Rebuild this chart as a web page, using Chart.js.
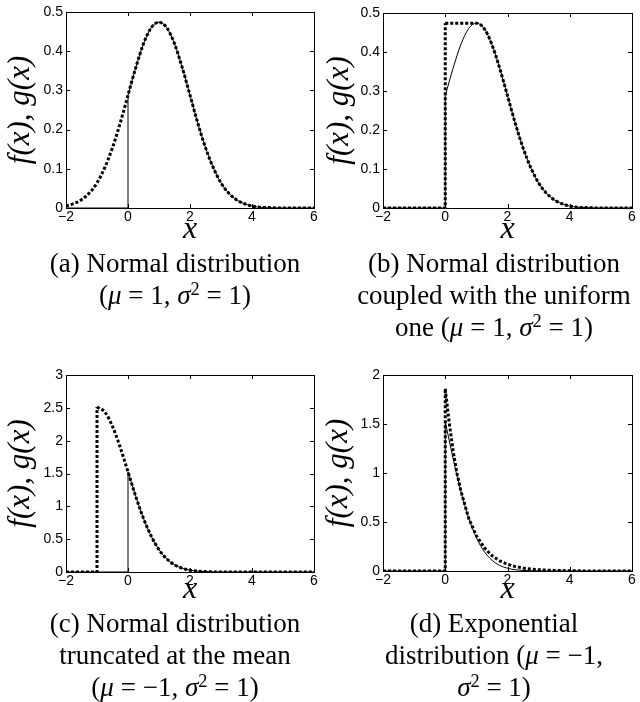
<!DOCTYPE html>
<html lang="en">
<head>
  <meta charset="UTF-8">
  <title>Truncated distributions f(x), g(x)</title>
  <script src="https://cdn.jsdelivr.net/npm/chart.js"></script>
  <style>
    body { margin: 0; background: #fff; width: 640px; height: 702px; position: relative; overflow: hidden; }
    .panel { position: absolute; width: 320px; height: 250px; }
    .caption { position: absolute; width: 340px; text-align: center; color: #000;
               font-family: "Liberation Serif", "Times New Roman", serif; font-size: 27px; line-height: 32px; }
    .caption sup { font-size: 0.68em; vertical-align: 0; position: relative; top: -0.48em; }
  </style>
</head>
<body>

  <!-- Panels -->
  <div class="panel" style="left:0;top:0"><canvas id="chartA" width="320" height="250"></canvas></div>
  <div class="panel" style="left:320px;top:0"><canvas id="chartB" width="320" height="250"></canvas></div>
  <div class="panel" style="left:0;top:360px"><canvas id="chartC" width="320" height="250"></canvas></div>
  <div class="panel" style="left:320px;top:360px"><canvas id="chartD" width="320" height="250"></canvas></div>

  <!-- Captions -->
  <div class="caption" style="left:5px;top:247px">(a) Normal distribution<br>(<i>μ</i> = 1, <i>σ</i><sup>2</sup> = 1)</div>
  <div class="caption" style="left:324px;top:247px">(b) Normal distribution<br>coupled with the uniform<br>one (<i>μ</i> = 1, <i>σ</i><sup>2</sup> = 1)</div>
  <div class="caption" style="left:5px;top:607px">(c) Normal distribution<br>truncated at the mean<br>(<i>μ</i> = −1, <i>σ</i><sup>2</sup> = 1)</div>
  <div class="caption" style="left:324px;top:607px">(d) Exponential<br>distribution (<i>μ</i> = −1,<br><i>σ</i><sup>2</sup> = 1)</div>

  <script>
    // Tick labels
    const xTicks = [-2, 0, 2, 4, 6];
    const yTicksAB = [0, 0.1, 0.2, 0.3, 0.4, 0.5];
    const yTicksC = [0, 0.5, 1, 1.5, 2, 2.5, 3];
    const yTicksD = [0, 0.5, 1, 1.5, 2];

    // (a) g(x): normal, mu = 1 (dotted)
    const xG1 = [-2, -1.75, -1.5, -1.25, -1, -0.75, -0.5, -0.25, 0, 0.25, 0.5, 0.75, 1, 1.25, 1.5, 1.75, 2, 2.25, 2.5, 2.75, 3, 3.25, 3.5, 3.75, 4, 4.25, 4.5, 5, 6];
    const yG1 = [0.005, 0.011, 0.021, 0.038, 0.064, 0.103, 0.154, 0.217, 0.288, 0.358, 0.419, 0.460, 0.474, 0.460, 0.419, 0.358, 0.288, 0.217, 0.154, 0.103, 0.064, 0.038, 0.021, 0.011, 0.005, 0.002, 0.001, 0, 0];

    // (a),(b) f(x): normal truncated at 0 (solid), starts at the jump
    const xF1 = [0, 0.25, 0.5, 0.75, 1, 1.25, 1.5, 1.75, 2, 2.25, 2.5, 2.75, 3, 3.25, 3.5, 3.75, 4, 4.25, 4.5, 5, 6];
    const yF1 = [0.288, 0.358, 0.419, 0.460, 0.474, 0.460, 0.419, 0.358, 0.288, 0.217, 0.154, 0.103, 0.064, 0.038, 0.021, 0.011, 0.005, 0.002, 0.001, 0, 0];

    // (b) g(x): uniform part then normal tail (dotted)
    const xG2 = [0, 1, 1.25, 1.5, 1.75, 2, 2.25, 2.5, 2.75, 3, 3.25, 3.5, 3.75, 4, 4.25, 4.5, 5, 6];
    const yG2 = [0.474, 0.474, 0.460, 0.419, 0.358, 0.288, 0.217, 0.154, 0.103, 0.064, 0.038, 0.021, 0.011, 0.005, 0.002, 0.001, 0, 0];

    // (c) g(x): normal mu = -1 truncated at the mean (dotted)
    const xG3 = [-1, -0.75, -0.5, -0.25, 0, 0.25, 0.5, 0.75, 1, 1.25, 1.5, 1.75, 2, 2.25, 2.5, 2.75, 3, 3.5, 6];
    const yG3 = [2.513, 2.437, 2.218, 1.897, 1.525, 1.150, 0.816, 0.544, 0.340, 0.200, 0.110, 0.057, 0.028, 0.013, 0.006, 0.002, 0.001, 0, 0];

    // (c),(d) f(x): normal mu = -1 truncated at 0 (solid)
    const xF3 = [0, 0.25, 0.5, 0.75, 1, 1.25, 1.5, 1.75, 2, 2.25, 2.5, 2.75, 3, 3.5, 6];
    const yF3 = [1.525, 1.150, 0.816, 0.544, 0.340, 0.200, 0.110, 0.057, 0.028, 0.013, 0.006, 0.002, 0.001, 0, 0];

    // (d) g(x): exponential (dotted)
    const xG4 = [0, 0.125, 0.25, 0.375, 0.5, 0.75, 1, 1.25, 1.5, 1.75, 2, 2.25, 2.5, 2.75, 3, 3.5, 4, 4.5, 5, 6];
    const yG4 = [1.86, 1.52, 1.23, 1.00, 0.82, 0.54, 0.36, 0.24, 0.157, 0.104, 0.069, 0.045, 0.030, 0.020, 0.013, 0.006, 0.0025, 0.001, 0, 0];

    const xMin = xTicks[0], xMax = xTicks[xTicks.length - 1];
    const pts = (xs, ys) => xs.map((x, i) => ({ x: x, y: ys[i] }));
    // zero line from the left edge up to the jump of a curve
    const riser = (xs, ys) => [{ x: xMin, y: 0 }, { x: xs[0], y: 0 }, { x: xs[0], y: ys[0] }];

    const dotted = { borderColor: '#000', borderWidth: 3, borderDash: [3, 2], borderCapStyle: 'butt' };
    const solid = { borderColor: '#000', borderWidth: 1 };

    function line(data, style, smooth) {
      return Object.assign({ data: data, showLine: true, pointRadius: 0, fill: false,
        cubicInterpolationMode: smooth ? 'monotone' : 'default', tension: 0 }, style);
    }

    // box with inward ticks, MATLAB style
    const boxPlugin = {
      id: 'box',
      afterDraw(chart) {
        const { ctx, chartArea: a, scales: { x, y } } = chart;
        ctx.save();
        ctx.strokeStyle = '#000';
        ctx.lineWidth = 1;
        ctx.beginPath();
        x.ticks.forEach(t => {
          const px = Math.round(x.getPixelForValue(t.value)) + 0.5;
          ctx.moveTo(px, a.bottom); ctx.lineTo(px, a.bottom - 4);
          ctx.moveTo(px, a.top); ctx.lineTo(px, a.top + 4);
        });
        y.ticks.forEach(t => {
          const py = Math.round(y.getPixelForValue(t.value)) + 0.5;
          ctx.moveTo(a.left, py); ctx.lineTo(a.left + 4, py);
          ctx.moveTo(a.right, py); ctx.lineTo(a.right - 4, py);
        });
        ctx.stroke();
        ctx.strokeRect(a.left + 0.5, a.top + 0.5, a.right - a.left, a.bottom - a.top);
        ctx.restore();
      }
    };

    const tickFont = { family: '"Liberation Sans", Arial, sans-serif', size: 14 };

    function makeChart(id, datasets, yTicks, lay) {
      new Chart(document.getElementById(id), {
        type: 'scatter',
        data: { datasets: datasets },
        options: {
          responsive: false,
          animation: false,
          layout: { padding: { top: lay.padTop, right: lay.padRight, left: 0, bottom: 0 } },
          plugins: { legend: { display: false }, tooltip: { enabled: false } },
          scales: {
            x: {
              type: 'linear', min: xMin, max: xMax,
              afterBuildTicks: ax => { ax.ticks = xTicks.map(v => ({ value: v })); },
              afterFit: ax => { ax.height = lay.axisH; },
              grid: { display: false, drawTicks: false },
              border: { display: false },
              ticks: { font: tickFont, color: '#000', padding: 1, maxRotation: 0, autoSkip: false,
                       callback: v => String(v).replace('-', '\u2212') },
              title: { display: true, text: 'x', color: '#000',
                       font: { family: '"Liberation Serif", serif', style: 'italic', size: 32, lineHeight: 1 },
                       padding: { top: 0, bottom: 4 } }
            },
            y: {
              type: 'linear', min: yTicks[0], max: yTicks[yTicks.length - 1],
              afterBuildTicks: ax => { ax.ticks = yTicks.map(v => ({ value: v })); },
              afterFit: ax => { ax.width = lay.axisW; },
              grid: { display: false, drawTicks: false },
              border: { display: false },
              ticks: { font: tickFont, color: '#000', padding: 3, autoSkip: false,
                       callback: v => String(v) },
              title: { display: true, text: 'f(x), g(x)', color: '#000',
                       font: { family: '"Liberation Serif", serif', style: 'italic', size: 31, lineHeight: 1 },
                       padding: { top: lay.yTitlePad, bottom: 0 } }
            }
          }
        },
        plugins: [boxPlugin]
      });
    }

    // (a)
    makeChart('chartA', [
      line(pts(xG1, yG1), dotted, true),
      line(riser(xF1, yF1), solid, false),
      line(pts(xF1, yF1), solid, true)
    ], yTicksAB, { padTop: 12, padRight: 6, axisW: 66, axisH: 42, yTitlePad: 5.5 });

    // (b)
    makeChart('chartB', [
      line(riser(xG2, yG2), dotted, false),
      line(pts(xG2, yG2), dotted, true),
      line(riser(xF1, yF1), solid, false),
      line(pts(xF1, yF1), solid, true)
    ], yTicksAB, { padTop: 13, padRight: 8, axisW: 63, axisH: 42, yTitlePad: 4.5 });

    // (c)
    makeChart('chartC', [
      line(riser(xG3, yG3), dotted, false),
      line(pts(xG3, yG3), dotted, true),
      line(riser(xF3, yF3), solid, false),
      line(pts(xF3, yF3), solid, true)
    ], yTicksC, { padTop: 15, padRight: 6, axisW: 66, axisH: 38, yTitlePad: 5.5 });

    // (d)
    makeChart('chartD', [
      line(riser(xG4, yG4), dotted, false),
      line(pts(xG4, yG4), dotted, false),
      line(riser(xF3, yF3), solid, false),
      line(pts(xF3, yF3), solid, true)
    ], yTicksD, { padTop: 15, padRight: 8, axisW: 63, axisH: 39, yTitlePad: 3.5 });
  </script>
</body>
</html>
